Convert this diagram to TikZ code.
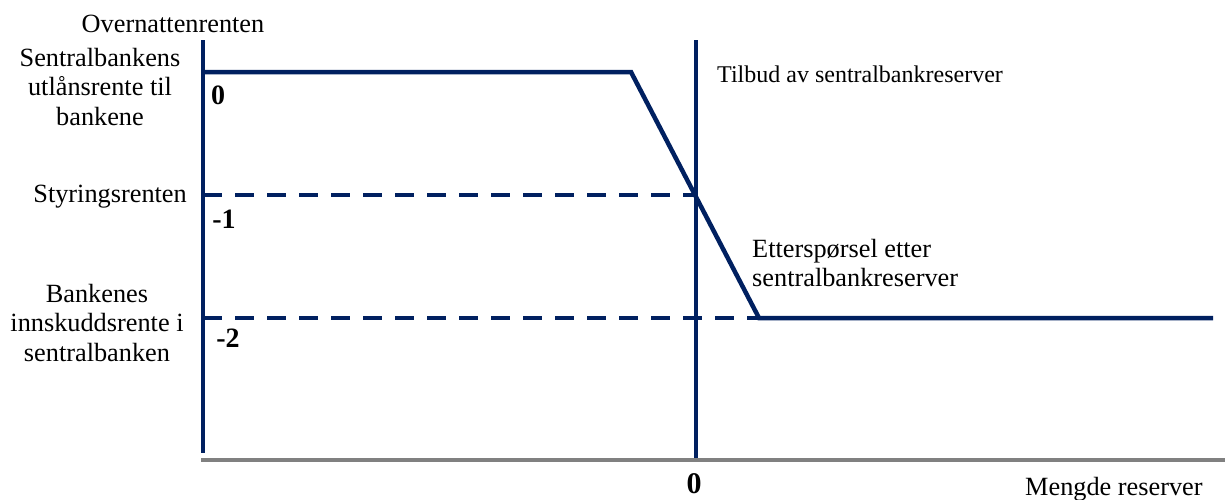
\documentclass[tikz,border=0pt]{standalone}
\usepackage{fontspec}
\setmainfont{Liberation Serif}
\definecolor{navy}{HTML}{002060}
\definecolor{axisgray}{HTML}{808080}
\begin{document}
\begin{tikzpicture}[x=1pt,y=-1pt,
  curve/.style={draw=navy,line width=4.5pt},
  dashline/.style={draw=navy,line width=4.5pt,dash pattern=on 19pt off 13pt},
  xaxis/.style={draw=axisgray,line width=3.5pt},
  lbl/.style={inner sep=0pt,font=\fontsize{26.3}{29.5}\selectfont},
  num/.style={inner sep=0pt,font=\fontsize{28}{30}\selectfont\bfseries}]
\useasboundingbox (0,0) rectangle (1225,499);
% key points
\coordinate (ytop) at (203,40);
\coordinate (ybot) at (203,453);
\coordinate (p0) at (203,72);
\coordinate (k1) at (631,72);
\coordinate (k2) at (759,318);
\coordinate (pend) at (1213,318);
\coordinate (stop) at (696,40);
\coordinate (sbot) at (696,458);
\coordinate (d1a) at (203,195);
\coordinate (d1b) at (696,195);
\coordinate (d2a) at (203,318);
\coordinate (xl) at (201,460);
\coordinate (xr) at (1225,460);
% dashed guides
\draw[dashline] (d1a) -- (d1b);
\draw[dashline] (d2a) -- (k2);
% axes
\draw[xaxis] (xl) -- (xr);
\draw[curve] (ytop) -- (ybot);
% supply
\draw[curve] (stop) -- (sbot);
% demand
\draw[curve] (p0) -- (k1) -- (k2) -- (pend);
% labels
\node[lbl,anchor=base] (ylab) at (173,32) {Overnattenrenten};
\node[lbl,anchor=base] (lend) at (100,66) {\begin{tabular}[t]{@{}c@{}}Sentralbankens\\utlånsrente til\\bankene\end{tabular}};
\node[num] (n0) at (218,95) {0};
\node[lbl,anchor=base east] (styr) at (187,202) {Styringsrenten};
\node[num] (n1) at (224,219) {-1};
\node[lbl,anchor=base] (innsk) at (97,302) {\begin{tabular}[t]{@{}c@{}}Bankenes\\innskuddsrente i\\sentralbanken\end{tabular}};
\node[num] (n2) at (228,338) {-2};
\node[lbl,anchor=base west,font=\fontsize{24}{29}\selectfont] (tilbud) at (717,82) {Tilbud av sentralbankreserver};
\node[lbl,anchor=base west] (ettersp) at (752,257) {\begin{tabular}[t]{@{}l@{}}Etterspørsel etter\\sentralbankreserver\end{tabular}};
\node[num,font=\fontsize{30}{32}\selectfont\bfseries] (nx) at (694,484) {0};
\node[lbl,anchor=base west] (xlab) at (1025,495) {Mengde reserver};
\end{tikzpicture}
\end{document}
